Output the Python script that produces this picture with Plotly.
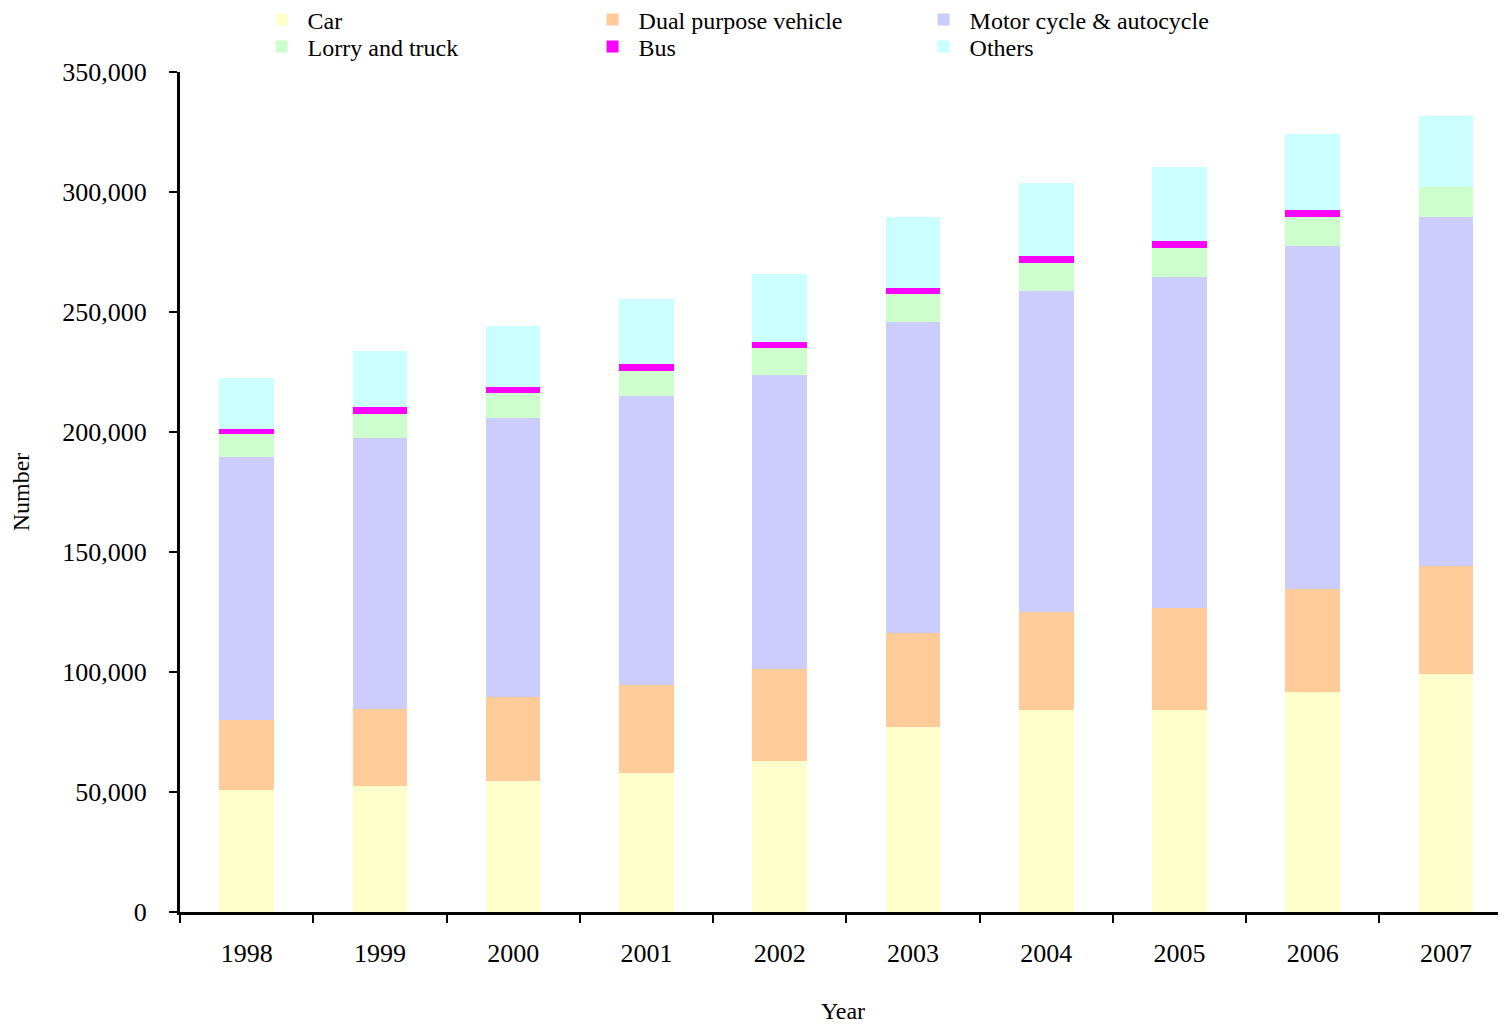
import plotly.graph_objects as go

years = ["1998", "1999", "2000", "2001", "2002", "2003", "2004", "2005", "2006", "2007"]
car = [50800, 52500, 54600, 57800, 62800, 77000, 84300, 84300, 91500, 99300]
dual = [29300, 32200, 34900, 36900, 38450, 39250, 40800, 42200, 43100, 45000]
motor = [109500, 112900, 116500, 120200, 122500, 129750, 133500, 138200, 142900, 145400]
lorry = [9400, 10000, 10250, 10500, 11250, 11600, 11800, 12000, 12100, 12500]
bus = [2400, 2700, 2500, 2800, 2600, 2500, 2800, 2800, 2900, 0]
others = [21100, 23400, 25450, 27100, 28400, 29500, 30400, 30900, 31700, 29500]

series = [
    ("Car", car, "#FFFFCC", "legend"),
    ("Dual purpose vehicle", dual, "#FFCC99", "legend"),
    ("Motor cycle & autocycle", motor, "#CCCCFF", "legend"),
    ("Lorry and truck", lorry, "#CCFFCC", "legend2"),
    ("Bus", bus, "#FF00FF", "legend2"),
    ("Others", others, "#CCFFFF", "legend2"),
]

FONT = "Liberation Serif, Times New Roman, serif"
W, H = 1498, 1016  # page body has an 8px margin

fig = go.Figure()
for name, vals, col, lg in series:
    fig.add_trace(go.Bar(x=years, y=vals, name=name, legend=lg,
                         marker=dict(color=col, line=dict(width=0))))

legend_common = dict(
    orientation="h",
    x=0.057,
    xanchor="left",
    yref="container",
    yanchor="middle",
    entrywidth=274,
    entrywidthmode="pixels",
    itemwidth=42,
    font=dict(family=FONT, size=24, color="black"),
    traceorder="normal",
    bgcolor="rgba(0,0,0,0)",
    borderwidth=0,
)

fig.update_layout(
    barmode="stack",
    bargap=0.59,
    width=W,
    height=H,
    paper_bgcolor="white",
    plot_bgcolor="white",
    margin=dict(l=172, r=0, t=64, b=112, autoexpand=False),
    font=dict(family=FONT, size=24, color="black"),
    legend=dict(legend_common, y=1 - 12 / H),
    legend2=dict(legend_common, y=1 - 39 / H),
    xaxis=dict(
        type="category",
        range=[-0.5, 9.45],
        automargin=False,
        showline=True,
        linecolor="black",
        linewidth=3,
        ticks="outside",
        tickson="boundaries",
        ticklen=8,
        tickwidth=2,
        tickcolor="black",
        ticklabelstandoff=16,
        tickfont=dict(family=FONT, size=26),
        showgrid=False,
        title=dict(text="Year", font=dict(family=FONT, size=24), standoff=38),
    ),
    yaxis=dict(
        range=[0, 350000],
        automargin=False,
        tickvals=[0, 50000, 100000, 150000, 200000, 250000, 300000, 350000],
        ticktext=["0", "50,000", "100,000", "150,000", "200,000", "250,000", "300,000", "350,000"],
        showline=True,
        linecolor="black",
        linewidth=3,
        ticks="outside",
        ticklen=8,
        tickwidth=2,
        tickcolor="black",
        ticklabelstandoff=17,
        tickfont=dict(family=FONT, size=26),
        showgrid=False,
        zeroline=False,
        title=dict(text="Number", font=dict(family=FONT, size=24), standoff=30),
    ),
)

fig.write_html("out.html")
